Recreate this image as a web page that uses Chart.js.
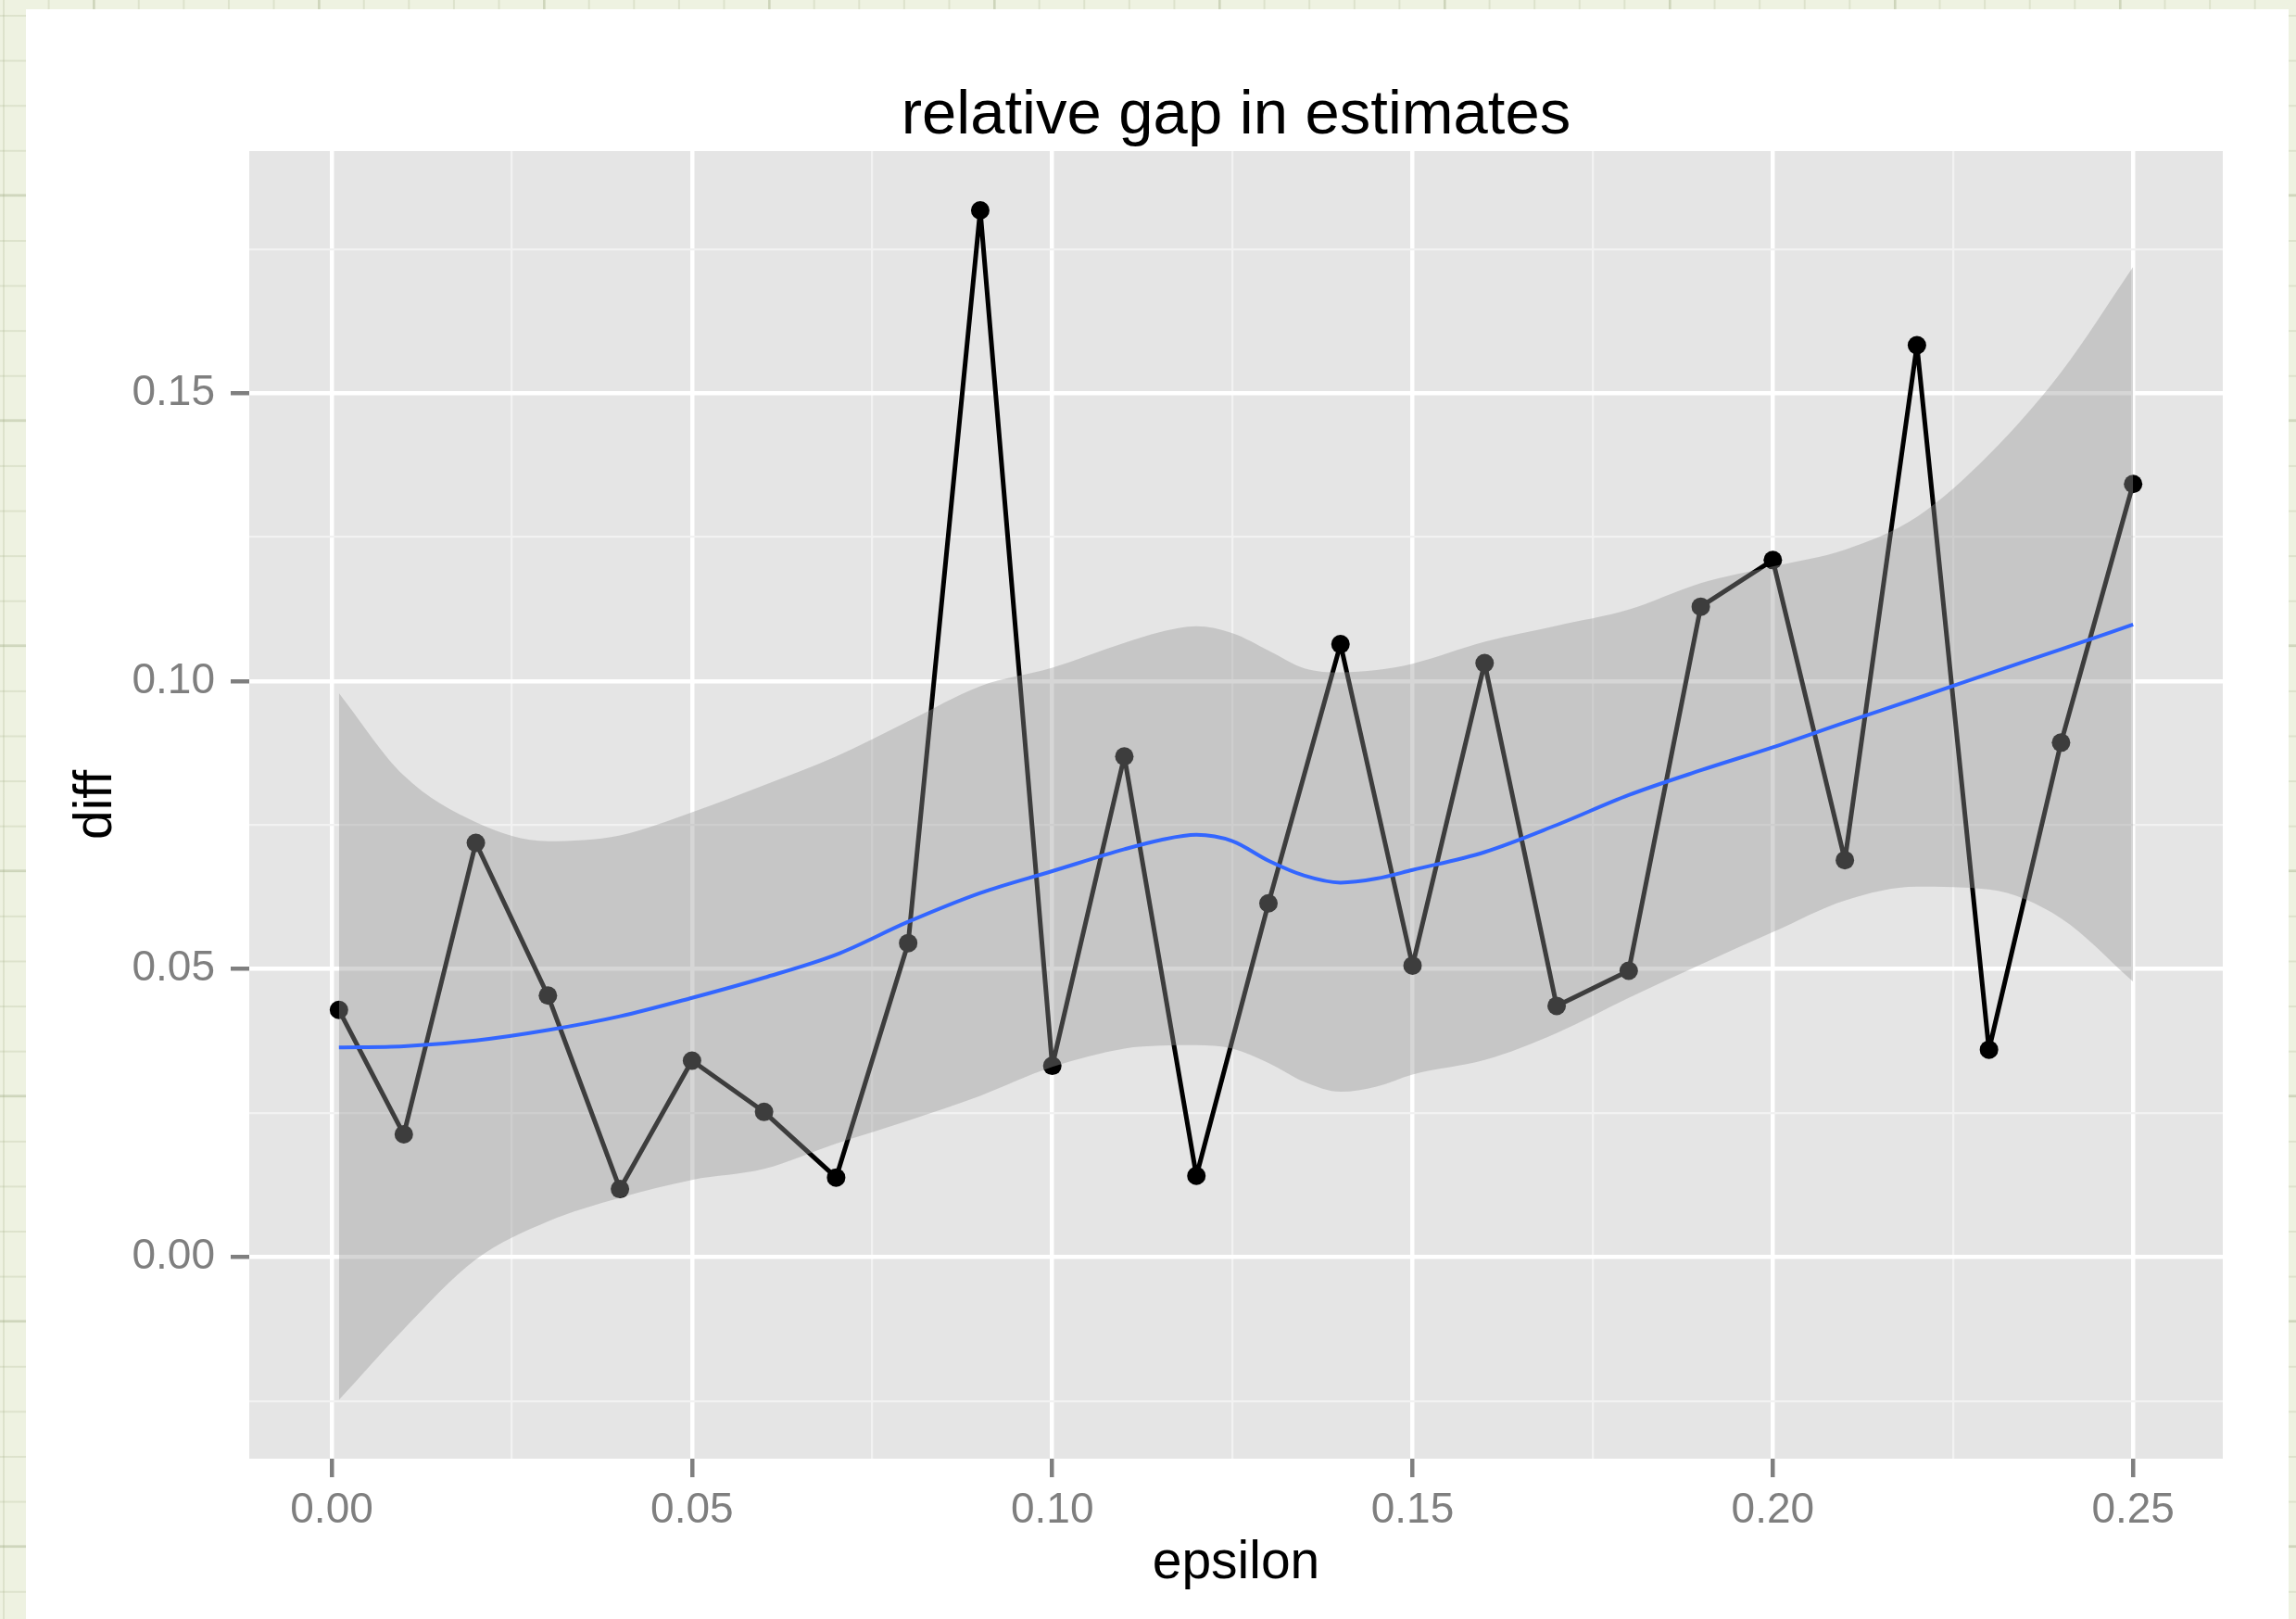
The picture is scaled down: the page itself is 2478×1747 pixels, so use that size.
<!DOCTYPE html>
<html>
<head>
<meta charset="utf-8">
<title>relative gap in estimates</title>
<script src="https://cdn.jsdelivr.net/npm/chart.js@4.4.1/dist/chart.umd.min.js"></script>
<style>
  html, body {
    margin: 0;
    padding: 0;
    width: 2478px;
    height: 1747px;
    overflow: hidden;
  }
  body {
    background-color: #eef2e1;
    background-image:
      linear-gradient(to right, rgba(160, 172, 130, 0.22) 2px, transparent 2px),
      linear-gradient(to bottom, rgba(160, 172, 130, 0.22) 2px, transparent 2px),
      linear-gradient(to right, rgba(140, 150, 110, 0.2) 3px, transparent 3px),
      linear-gradient(to bottom, rgba(140, 150, 110, 0.2) 3px, transparent 3px);
    background-size: 48.6px 48.6px, 48.6px 48.6px, 243px 243px, 243px 243px;
    background-position: 3px 16px, 3px 16px, 100px 209px, 100px 209px;
  }
  #card {
    position: absolute;
    left: 28px;
    top: 10px;
    width: 2442px;
    height: 1760px;
    background: #ffffff;
  }
  #chart {
    position: absolute;
    left: 0;
    top: 0;
  }
</style>
</head>
<body>
<div id="card"></div>
<canvas id="chart" width="2478" height="1747"></canvas>
<script>
// observed gap per epsilon
const epsilon = [0.001, 0.01, 0.02, 0.03, 0.04, 0.05, 0.06, 0.07, 0.08, 0.09,
  0.10, 0.11, 0.12, 0.13, 0.14, 0.15, 0.16, 0.17, 0.18, 0.19,
  0.20, 0.21, 0.22, 0.23, 0.24, 0.25];
const diff = [0.0429, 0.0213, 0.0719, 0.0454, 0.0118, 0.0341, 0.0252, 0.0138, 0.0545, 0.1817,
  0.0332, 0.0869, 0.0141, 0.0614, 0.1064, 0.0506, 0.1031, 0.0436, 0.0497, 0.1129,
  0.1210, 0.0689, 0.1583, 0.0360, 0.0893, 0.1342];

// loess fit with its confidence band
const fitX = [0.001, 0.01, 0.02, 0.03, 0.04, 0.05, 0.06, 0.07, 0.08, 0.09,
  0.10, 0.11, 0.115, 0.12, 0.125, 0.13, 0.135, 0.14, 0.145, 0.15,
  0.16, 0.17, 0.18, 0.19, 0.20, 0.21, 0.22, 0.23, 0.24, 0.25];
const fitY = [0.0364, 0.0366, 0.0376, 0.0394, 0.0418, 0.0450, 0.0485, 0.0525, 0.0582, 0.0632,
  0.0670, 0.0708, 0.0724, 0.0733, 0.0722, 0.0688, 0.0662, 0.0650, 0.0657, 0.0672,
  0.0703, 0.0750, 0.0802, 0.0845, 0.0885, 0.0928, 0.0970, 0.1013, 0.1055, 0.1098];
const fitUpper = [0.0979, 0.0836, 0.0755, 0.0722, 0.0732, 0.0772, 0.0819, 0.0869, 0.0930, 0.0991,
  0.1023, 0.1066, 0.1085, 0.1095, 0.1083, 0.1053, 0.1022, 0.1015, 0.1019, 0.1030,
  0.1068, 0.1096, 0.1124, 0.1170, 0.1199, 0.1228, 0.1285, 0.1393, 0.1536, 0.1719];
const fitLower = [-0.0248, -0.0125, -0.0004, 0.0062, 0.0103, 0.0134, 0.0153, 0.0197, 0.0237, 0.0280,
  0.0330, 0.0362, 0.0367, 0.0368, 0.0362, 0.0337, 0.0304, 0.0287, 0.0296, 0.0317,
  0.0342, 0.0389, 0.0450, 0.0508, 0.0564, 0.0619, 0.0643, 0.0638, 0.0588, 0.0478];

const xMajorTicks = [0, 0.05, 0.10, 0.15, 0.20, 0.25];
const xMinorTicks = [0.025, 0.075, 0.125, 0.175, 0.225];
const yMajorTicks = [0, 0.05, 0.10, 0.15];
const yMinorTicks = [-0.025, 0.025, 0.075, 0.125, 0.175];

const FONT = "'Liberation Sans', Arial, Helvetica, sans-serif";

const toPoints = (xs, ys) => xs.map((x, i) => ({ x: x, y: ys[i] }));
const isMajor = (list, v) => list.some((m) => Math.abs(m - v) < 1e-9);

// grey panel behind the grid, like theme_grey
const panelBackground = {
  id: 'panelBackground',
  beforeDraw(chart) {
    const { ctx, chartArea } = chart;
    ctx.save();
    ctx.fillStyle = '#e5e5e5';
    ctx.fillRect(chartArea.left, chartArea.top, chartArea.right - chartArea.left, chartArea.bottom - chartArea.top);
    ctx.restore();
  },
};

function axisOptions(majors, minors, min, max, title, titlePadding, size) {
  return {
    type: 'linear',
    min: min,
    max: max,
    afterBuildTicks(scale) {
      scale.ticks = majors.concat(minors).sort((a, b) => a - b).map((v) => ({ value: v }));
    },
    afterFit: size,
    border: { display: false },
    grid: {
      drawTicks: true,
      tickLength: 20,
      color: (c) => (isMajor(majors, c.tick.value) ? '#ffffff' : '#f2f2f2'),
      lineWidth: (c) => (isMajor(majors, c.tick.value) ? 4.5 : 2.2),
      tickColor: (c) => (isMajor(majors, c.tick.value) ? '#7f7f7f' : 'rgba(0,0,0,0)'),
      tickWidth: 4.5,
    },
    ticks: {
      autoSkip: false,
      maxRotation: 0,
      color: '#7f7f7f',
      font: { family: FONT, size: 46 },
      callback: (v) => (isMajor(majors, v) ? v.toFixed(2) : ''),
    },
    title: {
      display: true,
      text: title,
      color: '#000000',
      font: { family: FONT, size: 57 },
      padding: titlePadding,
    },
  };
}

const xAxis = axisOptions(xMajorTicks, xMinorTicks, -0.01145, 0.26245, 'epsilon',
  { top: 0, bottom: 26 }, (scale) => { scale.height = 173; });
xAxis.ticks.padding = 9;

const yAxis = axisOptions(yMajorTicks, yMinorTicks, -0.0350, 0.1920, 'diff',
  { top: 70, bottom: 0 }, (scale) => { scale.width = 269; });
yAxis.ticks.padding = 17;

new Chart(document.getElementById('chart'), {
  type: 'line',
  data: {
    datasets: [
      {
        label: 'diff',
        data: toPoints(epsilon, diff),
        borderColor: '#000000',
        borderWidth: 5,
        borderJoinStyle: 'round',
        borderCapStyle: 'round',
        pointRadius: 10,
        pointBorderWidth: 0,
        pointBackgroundColor: '#000000',
        tension: 0,
        fill: false,
        order: 3,
      },
      {
        label: 'upper',
        data: toPoints(fitX, fitUpper),
        borderColor: 'rgba(0,0,0,0)',
        borderWidth: 0,
        pointRadius: 0,
        backgroundColor: 'rgba(153,153,153,0.4)',
        cubicInterpolationMode: 'monotone',
        fill: '+1',
        order: 2,
      },
      {
        label: 'lower',
        data: toPoints(fitX, fitLower),
        borderColor: 'rgba(0,0,0,0)',
        borderWidth: 0,
        pointRadius: 0,
        cubicInterpolationMode: 'monotone',
        fill: false,
        order: 2,
      },
      {
        label: 'fit',
        data: toPoints(fitX, fitY),
        borderColor: '#3366ff',
        borderWidth: 4,
        borderJoinStyle: 'round',
        pointRadius: 0,
        cubicInterpolationMode: 'monotone',
        fill: false,
        order: 1,
      },
    ],
  },
  options: {
    responsive: false,
    animation: false,
    events: [],
    layout: { padding: { left: 0, top: 0, right: 79, bottom: 0 } },
    scales: { x: xAxis, y: yAxis },
    plugins: {
      legend: { display: false },
      tooltip: { enabled: false },
      title: {
        display: true,
        text: 'relative gap in estimates',
        color: '#000000',
        fullSize: false,
        font: { family: FONT, size: 67, weight: 'normal', lineHeight: 1 },
        padding: { top: 92, bottom: 4 },
      },
    },
  },
  plugins: [panelBackground],
});
</script>
</body>
</html>
